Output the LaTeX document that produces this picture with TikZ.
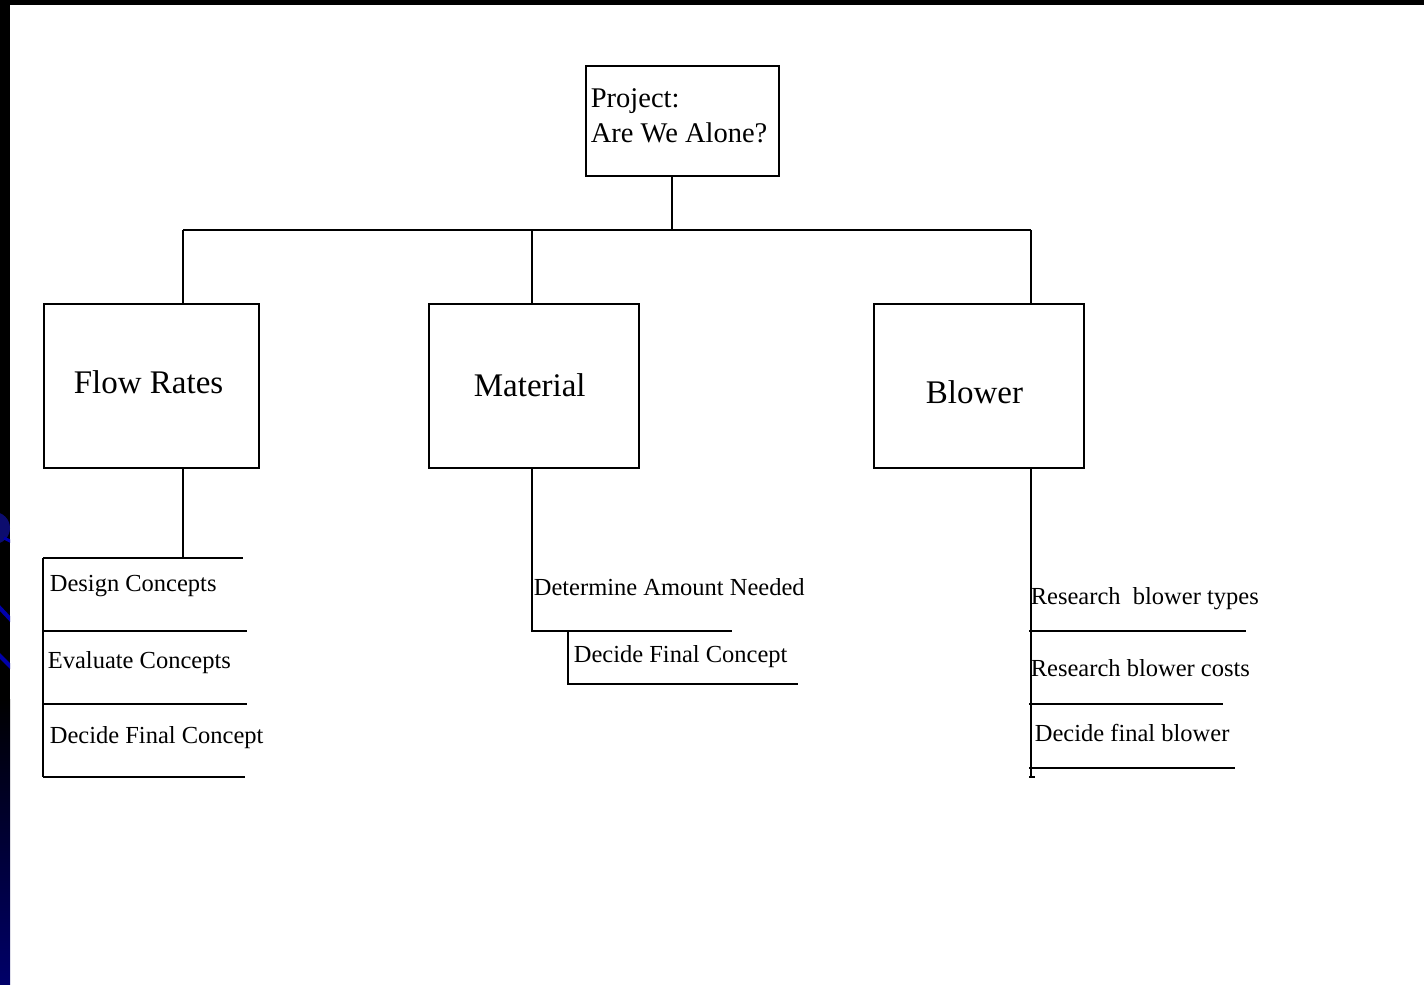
\documentclass[tikz,border=0pt]{standalone}
\usepackage{fontspec}
\setmainfont{Liberation Serif}
\definecolor{navyend}{RGB}{0,0,105}
\definecolor{decoblue}{RGB}{0,0,170}
\definecolor{decodark}{RGB}{12,12,110}
\begin{document}
\begin{tikzpicture}[x=1pt,y=-1pt,line width=1.7pt,
  box/.style={draw,line width=1.8pt,anchor=north west,inner sep=0pt},
  bigtxt/.style={font=\fontsize{33}{39}\selectfont,inner sep=0pt,anchor=base west},
  toptxt/.style={font=\fontsize{28.5}{34}\selectfont,inner sep=0pt,anchor=base west},
  item/.style={font=\fontsize{24.5}{30}\selectfont,inner sep=0pt,anchor=base west}]
\useasboundingbox (0,0) rectangle (1424,985);
% slide background
\fill[white] (0,0) rectangle (1424,985);
\fill[black] (0,0) rectangle (1424,5);
\fill[black] (0,0) rectangle (10,700);
\shade[top color=black,bottom color=navyend] (0,699) rectangle (10,985);
\begin{scope}
  \clip (0,0) rectangle (10,985);
  \fill[decodark] (-6,528) circle (16);
  \draw[decoblue,line width=3pt] (4,538) -- (12,542);
  \draw[decoblue,line width=4pt] (-2,606) -- (12,621);
  \draw[decoblue,line width=4pt] (-2,654) -- (12,668);
\end{scope}
% boxes
\node[box,minimum width=193pt,minimum height=110pt] (top) at (585,65) {};
\node[toptxt] (topa) at (590,107) {Project:};
\node[toptxt] (topb) at (590,142) {Are We Alone?};
\node[box,minimum width=215pt,minimum height=164pt] (flow) at (43,303) {};
\node[bigtxt] (flowt) at (73,393) {Flow Rates};
\node[box,minimum width=210pt,minimum height=164pt] (mat) at (428,303) {};
\node[bigtxt] (matt) at (473,396) {Material};
\node[box,minimum width=210pt,minimum height=164pt] (blow) at (873,303) {};
\node[bigtxt] (blowt) at (925,403) {Blower};
% bus
\coordinate (tj) at (672,230);
\coordinate (bL) at (183,230);
\coordinate (bM) at (532,230);
\coordinate (bR) at (1031,230);
\draw (tj |- top.south) -- (tj);
\draw (bL) -- (bR);
\draw (bL) -- (bL |- flow.north);
\draw (bM) -- (bM |- mat.north);
\draw (bR) -- (bR |- blow.north);
% Flow Rates list
\coordinate (f0) at (43,558);
\coordinate (f1) at (43,631);
\coordinate (f2) at (43,704);
\coordinate (f3) at (43,777);
\draw (bL |- flow.south) -- (bL |- f0);
\draw (f0) -- (f3);
\draw (f0) -- ++(200,0);
\draw (f1) -- ++(204,0);
\draw (f2) -- ++(204,0);
\draw (f3) -- ++(202,0);
\node[item] (fa) at (49,591) {Design Concepts};
\node[item] (fb) at (47,668) {Evaluate Concepts};
\node[item] (fc) at (49,743) {Decide Final Concept};
% Material list
\coordinate (m1) at (532,631);
\coordinate (m2) at (568,631);
\coordinate (m3) at (568,684);
\draw (bM |- mat.south) -- (m1) -- (732,631);
\draw (m2) -- (m3) -- (798,684);
\node[item] (ma) at (533,595) {Determine Amount Needed};
\node[item] (mb) at (573,662) {Decide Final Concept};
% Blower list
\coordinate (b1) at (1029,631);
\coordinate (b2) at (1029,704);
\coordinate (b3) at (1029,768);
\coordinate (bend) at (1031,777);
\draw (bR |- blow.south) -- (bend);
\draw (b1) -- ++(217,0);
\draw (b2) -- ++(194,0);
\draw (b3) -- ++(206,0);
\draw (bend) ++(-2,0) -- ++(6,0);
\node[item] (ba) at (1030,604) {Research\ \ blower types};
\node[item] (bb) at (1030,676) {Research blower costs};
\node[item] (bc) at (1034,741) {Decide final blower};
\end{tikzpicture}
\end{document}
